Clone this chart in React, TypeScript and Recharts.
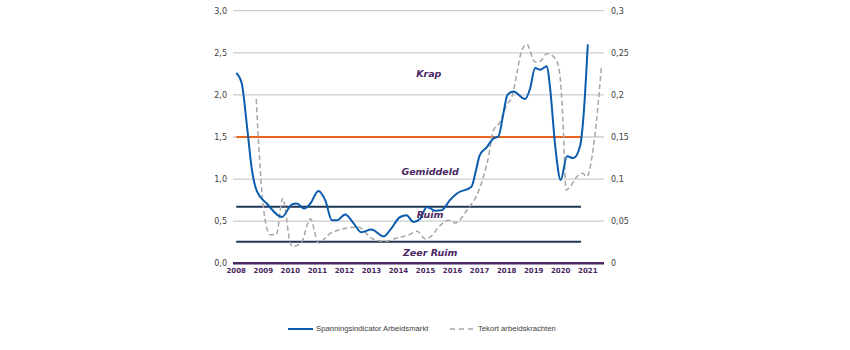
import React from 'react';
import { LineChart, Line, XAxis, YAxis, CartesianGrid, ReferenceLine, ReferenceDot } from 'recharts';

// Axis ticks and labels
const yearTicks = [2008, 2009, 2010, 2011, 2012, 2013, 2014, 2015, 2016, 2017, 2018, 2019, 2020, 2021];
const leftTicks = [0, 0.5, 1, 1.5, 2, 2.5, 3];
const leftTickLabels = ['0,0', '0,5', '1,0', '1,5', '2,0', '2,5', '3,0'];
const rightTicks = [0, 0.05, 0.1, 0.15, 0.2, 0.25, 0.3];
const rightTickLabels = ['0', '0,05', '0,1', '0,15', '0,2', '0,25', '0,3'];

// Spanningsindicator Arbeidsmarkt (left axis)
const spanningYears = [
  2008.0, 2008.2, 2008.4, 2008.58, 2008.77, 2009.13, 2009.69, 2010.06, 2010.24, 2010.51,
  2010.74, 2011.04, 2011.29, 2011.54, 2011.72, 2012.03, 2012.34, 2012.62, 2013.0, 2013.45,
  2013.7, 2014.06, 2014.3, 2014.55, 2014.8, 2015.05, 2015.36, 2015.6, 2015.9, 2016.16,
  2016.7, 2016.85, 2017.0, 2017.27, 2017.5, 2017.7, 2017.88, 2018.03, 2018.25, 2018.68,
  2018.87, 2019.05, 2019.24, 2019.49, 2019.6, 2019.8, 2020.0, 2020.23, 2020.47, 2020.72,
  2020.85, 2021.0,
];
const spanningValues = [
  2.26, 2.14, 1.62, 1.11, 0.85, 0.71, 0.55, 0.70, 0.71, 0.65,
  0.71, 0.86, 0.75, 0.51, 0.51, 0.58, 0.475, 0.37, 0.40, 0.32,
  0.40, 0.55, 0.57, 0.49, 0.53, 0.67, 0.625, 0.63, 0.75, 0.83,
  0.91, 1.08, 1.28, 1.38, 1.48, 1.51, 1.78, 2.0, 2.04, 1.95,
  2.08, 2.32, 2.30, 2.34, 2.10, 1.38, 0.99, 1.27, 1.25, 1.40,
  1.78, 2.60,
];

// Tekort arbeidskrachten (right axis)
const tekortYears = [
  2008.74, 2008.82, 2009.0, 2009.25, 2009.48, 2009.72, 2010.0, 2010.1, 2010.4, 2010.74,
  2011.04, 2011.5, 2012.5, 2013.05, 2013.5, 2013.94, 2014.4, 2014.68, 2015.0, 2015.2,
  2015.54, 2015.85, 2016.1, 2016.53, 2017.0, 2017.33, 2017.5, 2017.76, 2018.0, 2018.2,
  2018.38, 2018.56, 2018.75, 2019.05, 2019.24, 2019.49, 2019.8, 2019.96, 2020.08, 2020.2,
  2020.35, 2020.6, 2020.79, 2020.97, 2021.16, 2021.35, 2021.5,
];
const tekortValues = [
  0.195, 0.146, 0.067, 0.034, 0.034, 0.077, 0.024, 0.020, 0.024, 0.053,
  0.024, 0.036, 0.043, 0.029, 0.026, 0.030, 0.034, 0.038, 0.029, 0.032,
  0.045, 0.051, 0.048, 0.063, 0.089, 0.127, 0.157, 0.168, 0.188, 0.198,
  0.226, 0.253, 0.260, 0.239, 0.240, 0.249, 0.243, 0.226, 0.170, 0.087,
  0.091, 0.103, 0.107, 0.103, 0.127, 0.178, 0.232,
];

// Threshold lines (left axis values)
const thresholdValues = [1.5, 0.672, 0.255];
const thresholdColors = ['#e8641f', '#1e3553', '#1e3553'];
const thresholdStart = 2008;
const thresholdEnd = 2020.75;

// Zone labels
const zoneLabels = ['Krap', 'Gemiddeld', 'Ruim', 'Zeer Ruim'];
const zoneLabelYears = [2015.12, 2015.17, 2015.17, 2015.17];
const zoneLabelValues = [2.25, 1.09, 0.575, 0.13];

const spanningData = spanningYears.map((year, i) => ({ year, v: spanningValues[i] }));
const tekortData = tekortYears.map((year, i) => ({ year, v: tekortValues[i] }));

const PURPLE = '#4b2763';
const BLUE = '#0b5cad';
const GREY = '#a6a6a6';

const fmtLeft = (v: number) => {
  const i = leftTicks.findIndex((t) => Math.abs(t - v) < 1e-9);
  return i >= 0 ? leftTickLabels[i] : String(v);
};
const fmtRight = (v: number) => {
  const i = rightTicks.findIndex((t) => Math.abs(t - v) < 1e-9);
  return i >= 0 ? rightTickLabels[i] : String(v);
};

export default function App() {
  return (
    <div style={{ position: 'absolute', left: 0, top: 0, width: 850, height: 350, background: '#fff' }}>
      <LineChart width={850} height={350} margin={{ top: 10.7, right: 206, bottom: 66.7, left: 193 }}>
        <CartesianGrid yAxisId="left" vertical={false} stroke="#cdcdcd" strokeWidth={1.3} />
        <XAxis
          dataKey="year"
          type="number"
          domain={[2007.88, 2021.6]}
          ticks={yearTicks}
          interval={0}
          allowDataOverflow
          height={20}
          axisLine={{ stroke: PURPLE, strokeWidth: 2.5 }}
          tickLine={false}
          tickSize={3}
          tickMargin={2}
          tick={{ fontSize: 7, fontWeight: 'bold', fill: PURPLE, fontFamily: 'DejaVu Sans' }}
        />
        <YAxis
          yAxisId="left"
          domain={[0, 3]}
          ticks={leftTicks}
          interval={0}
          width={40}
          axisLine={false}
          tickLine={false}
          tickSize={4}
          tickMargin={2}
          tickFormatter={fmtLeft}
          tick={{ fontSize: 8, fill: '#404040', fontFamily: 'DejaVu Sans' }}
        />
        <YAxis
          yAxisId="right"
          orientation="right"
          domain={[0, 0.3]}
          ticks={rightTicks}
          interval={0}
          width={40}
          axisLine={false}
          tickLine={false}
          tickSize={4}
          tickMargin={3}
          tickFormatter={fmtRight}
          tick={{ fontSize: 8, fill: '#404040', fontFamily: 'DejaVu Sans' }}
        />
        {thresholdValues.map((t, i) => (
          <ReferenceLine
            key={'th' + i}
            yAxisId="left"
            segment={[{ x: thresholdStart, y: t }, { x: thresholdEnd, y: t }]}
            stroke={thresholdColors[i]}
            strokeWidth={2}
          />
        ))}
        {zoneLabels.map((lab, i) => (
          <ReferenceDot
            key={'z' + i}
            yAxisId="left"
            x={zoneLabelYears[i]}
            y={zoneLabelValues[i]}
            r={0}
            shape={(p: any) => (
              <text
                x={p.cx}
                y={p.cy}
                textAnchor="middle"
                dominantBaseline="central"
                fill={PURPLE}
                fontSize={9.5}
                fontWeight="bold"
                fontStyle="italic"
                fontFamily="DejaVu Sans"
              >
                {lab}
              </text>
            )}
          />
        ))}
        <Line
          data={tekortData}
          dataKey="v"
          yAxisId="right"
          type="monotone"
          stroke={GREY}
          strokeWidth={1.5}
          strokeDasharray="5 3"
          dot={false}
          isAnimationActive={false}
        />
        <Line
          data={spanningData}
          dataKey="v"
          yAxisId="left"
          type="monotone"
          stroke={BLUE}
          strokeWidth={2}
          dot={false}
          isAnimationActive={false}
        />
      </LineChart>
      <div style={{ position: 'absolute', left: 0, top: 322, width: 850, height: 14, fontFamily: 'Liberation Sans', fontSize: 7.7, color: '#404040' }}>
        <svg style={{ position: 'absolute', left: 288, top: 0 }} width={26} height={14}>
          <line x1={0} y1={7} x2={25} y2={7} stroke={BLUE} strokeWidth={2} />
        </svg>
        <span style={{ position: 'absolute', left: 316, top: 2, whiteSpace: 'nowrap' }}>Spanningsindicator Arbeidsmarkt</span>
        <svg style={{ position: 'absolute', left: 450, top: 0 }} width={28} height={14}>
          <line x1={0} y1={7} x2={27} y2={7} stroke={GREY} strokeWidth={1.5} strokeDasharray="5 4" />
        </svg>
        <span style={{ position: 'absolute', left: 478, top: 2, whiteSpace: 'nowrap' }}>Tekort arbeidskrachten</span>
      </div>
    </div>
  );
}
